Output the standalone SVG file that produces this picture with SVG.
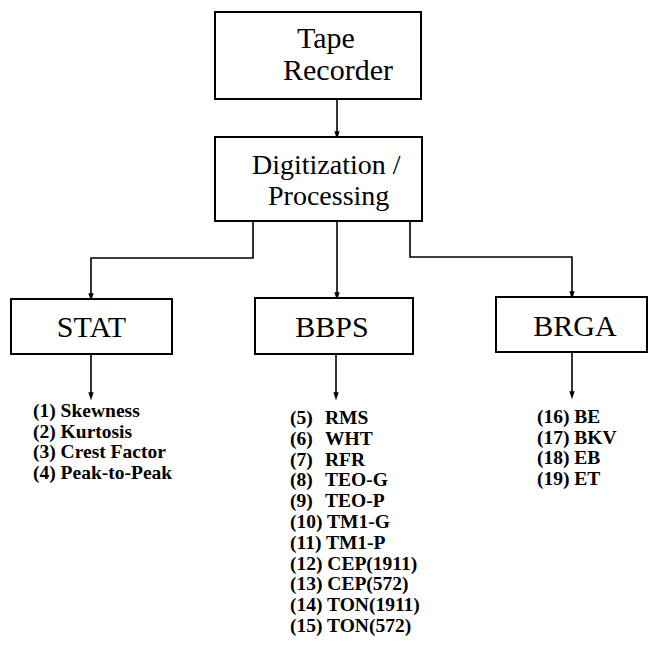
<svg xmlns="http://www.w3.org/2000/svg" width="649" height="666" viewBox="0 0 649 666">
<defs>
<style>
.box{fill:#fff;stroke:#000;stroke-width:2}
.bt{font-size:28px;fill:#000}
.bl{font-size:30px;fill:#000}
.lt{font-size:19.5px;font-weight:bold;fill:#000}
.con{fill:none;stroke:#000;stroke-width:1.6}
</style>
<marker id="ah" markerUnits="userSpaceOnUse" markerWidth="8" markerHeight="12" refX="7" refY="4" orient="auto" viewBox="0 0 12 8">
<path d="M0,0 L12,4 L0,8 Z" fill="#000"/>
</marker>
</defs>
<rect width="649" height="666" fill="#fff"/>
<g id="connectors">
<path class="con" d="M337,99 V136" marker-end="url(#ah)"/>
<path class="con" d="M253,221 V258 H91 V298" marker-end="url(#ah)"/>
<path class="con" d="M337,221 V297" marker-end="url(#ah)"/>
<path class="con" d="M410,221 V257 H572 V296" marker-end="url(#ah)"/>
<path class="con" d="M91,354 V397" marker-end="url(#ah)"/>
<path class="con" d="M336,354 V397" marker-end="url(#ah)"/>
<path class="con" d="M572,352 V396" marker-end="url(#ah)"/>
</g>
<g font-family="'Liberation Serif', 'DejaVu Serif', 'Times New Roman', serif">
<g id="tape-recorder">
<rect class="box" x="215" y="12" width="206" height="87"/>
<text class="bl" x="297" y="48">Tape</text>
<text class="bl" x="283" y="80">Recorder</text>
</g>
<g id="digitization">
<rect class="box" x="215" y="137" width="207" height="84"/>
<text class="bt" x="252" y="174">Digitization /</text>
<text class="bt" x="268" y="205">Processing</text>
</g>
<g id="stat">
<rect class="box" x="11" y="299" width="161" height="55"/>
<text class="bl" x="91.5" y="337" text-anchor="middle">STAT</text>
</g>
<g id="bbps">
<rect class="box" x="255" y="298" width="158" height="56"/>
<text class="bl" x="332" y="337" text-anchor="middle">BBPS</text>
</g>
<g id="brga">
<rect class="box" x="496" y="297" width="151" height="55"/>
<text class="bl" x="575" y="336" text-anchor="middle">BRGA</text>
</g>
<g id="stat-list" class="lt">
<text x="33" y="417">(1) Skewness</text>
<text x="33" y="438">(2) Kurtosis</text>
<text x="33" y="458">(3) Crest Factor</text>
<text x="33" y="479">(4) Peak-to-Peak</text>
</g>
<g id="bbps-list" class="lt">
<text y="424"><tspan x="290">(5)</tspan><tspan x="325">RMS</tspan></text>
<text y="445"><tspan x="290">(6)</tspan><tspan x="325">WHT</tspan></text>
<text y="466"><tspan x="290">(7)</tspan><tspan x="325">RFR</tspan></text>
<text y="486"><tspan x="290">(8)</tspan><tspan x="325">TEO-G</tspan></text>
<text y="507"><tspan x="290">(9)</tspan><tspan x="325">TEO-P</tspan></text>
<text x="290" y="528">(10) TM1-G</text>
<text x="290" y="549">(11) TM1-P</text>
<text x="290" y="570">(12) CEP(1911)</text>
<text x="290" y="590">(13) CEP(572)</text>
<text x="290" y="611">(14) TON(1911)</text>
<text x="290" y="632">(15) TON(572)</text>
</g>
<g id="brga-list" class="lt">
<text x="537" y="423">(16) BE</text>
<text x="537" y="444">(17) BKV</text>
<text x="537" y="464">(18) EB</text>
<text x="537" y="485">(19) ET</text>
</g>
</g>
</svg>
